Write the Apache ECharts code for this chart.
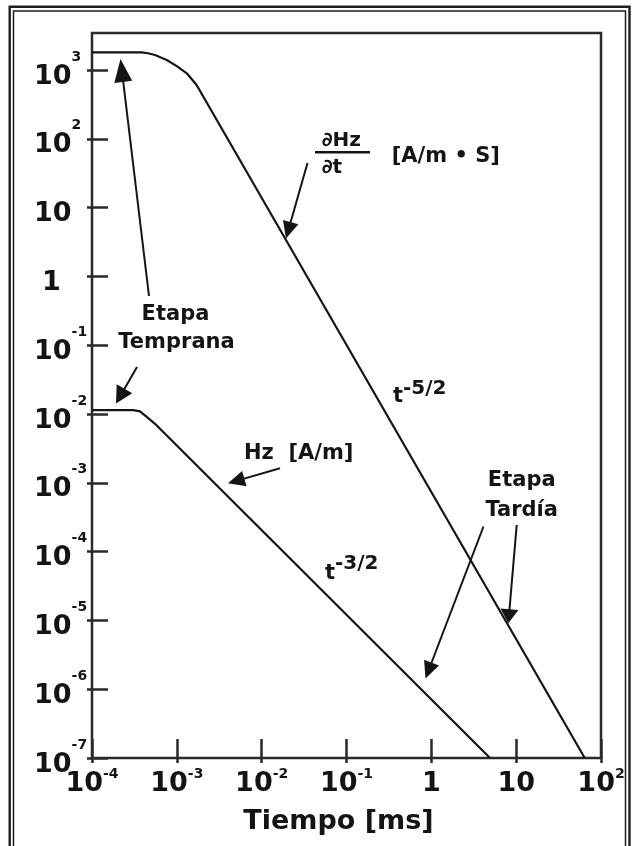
<!DOCTYPE html>
<html><head><meta charset="utf-8">
<script src="https://cdn.jsdelivr.net/npm/echarts@6/dist/echarts.min.js"></script>
<style>html,body{margin:0;padding:0;background:#fff}#c{width:632px;height:846px}</style>
</head><body><div id="c"></div>
<script>
// ---- data ----
const xTickValues = [1e-4, 1e-3, 1e-2, 1e-1, 1, 10, 100];
const yTickValues = [1e-7, 1e-6, 1e-5, 1e-4, 1e-3, 1e-2, 1e-1, 1, 10, 100, 1000];
const xRange = [1e-4, 100];
const yRange = [1e-7, 3450];
// dHz/dt  [A/m·s]
const dHzTime  = [1e-4, 3.85e-4, 4.57e-4, 5.53e-4, 7.6e-4, 1.0e-3, 1.31e-3, 1.71e-3, 64.3];
const dHzValue = [1800, 1800,    1750,    1650,    1400,   1140,   895,     605,     1e-7];
// Hz  [A/m]
const hzTime  = [1e-4,   3.07e-4, 3.68e-4, 4.42e-4, 5.53e-4, 4.92];
const hzValue = [0.0114, 0.0114,  0.0109,  0.0091,  0.0072,  1e-7];

const FONT = '"DejaVu Sans", "Noto Sans", sans-serif';
const INK = '#141414';
const FRAME = '#2a2a2a';

function expOf(v) {
  const e = Math.log10(v), r = Math.round(e);
  return Math.abs(e - r) < 1e-6 ? r : null;
}
function xLabel(v) {
  const e = expOf(v);
  if (e === null) return '';
  if (e === 0) return '{b|1}{s|\u200b}';
  if (e === 1) return '{b|10}{s|\u200b}';
  return '{b|10}{s|' + e + '}';
}
function yLabel(v) {
  const e = expOf(v);
  if (e === null) return '';
  if (e === 0) return '{b1|1}{s|\u200b}';
  if (e === 1) return '{b|10}{s|\u200b}';
  return '{b|10}{s|' + e + '}';
}
const bigStyle = {fontSize: 27, fontWeight: 'bold', fontFamily: FONT, color: INK, verticalAlign: 'bottom'};

const chart = echarts.init(document.getElementById('c'), null, {renderer: 'canvas'});

function arrow(x1, y1, x2, y2, len, hw) {
  const dx = x2 - x1, dy = y2 - y1, L = Math.hypot(dx, dy), ux = dx / L, uy = dy / L;
  const bx = x2 - ux * len, by = y2 - uy * len, px = -uy, py = ux;
  return [
    {type: 'line', shape: {x1: x1, y1: y1, x2: bx + ux * 2, y2: by + uy * 2}, style: {stroke: INK, lineWidth: 2}, z: 50},
    {type: 'polygon', shape: {points: [[x2, y2], [bx + px * hw, by + py * hw], [bx - px * hw, by - py * hw]]}, style: {fill: INK}, z: 50}
  ];
}
function txt(text, x, y, size, align) {
  return {type: 'text', z: 50, style: {text: text, x: x, y: y, fill: INK,
    font: 'bold ' + size + 'px ' + FONT, align: align || 'left', verticalAlign: 'middle'}};
}

const graphics = [
  // double outer frame
  {type: 'rect', shape: {x: 9.7, y: 6.7, width: 619.8, height: 900}, style: {fill: 'none', stroke: '#1e1e1e', lineWidth: 2.4}, z: 1},
  {type: 'rect', shape: {x: 13.5, y: 11, width: 612, height: 900}, style: {fill: 'none', stroke: '#1e1e1e', lineWidth: 1.5}, z: 1},
  // dHz/dt label
  txt('\u2202Hz', 321.7, 140.8, 20),
  {type: 'line', shape: {x1: 315, y1: 152.3, x2: 370, y2: 152.3}, style: {stroke: INK, lineWidth: 2.5}, z: 50},
  txt('\u2202t', 321.7, 168, 20),
  txt('[A/m \u2022 S]', 391.7, 156.1, 21),
  // Etapa Temprana
  txt('Etapa', 175.5, 315, 21, 'center'),
  txt('Temprana', 176.5, 342.5, 21, 'center'),
  // Hz label
  txt('Hz  [A/m]', 244, 454, 21),
  // slopes
  txt('t', 393, 396.8, 21),
  txt('-5/2', 403, 388.8, 20),
  txt('t', 325, 573.8, 21),
  txt('-3/2', 335, 563.8, 20),
  // Etapa Tardia
  txt('Etapa', 521.7, 480.8, 21, 'center'),
  txt('Tard\u00eda', 521.7, 510.5, 21, 'center')
].concat(
  arrow(149, 296, 120.5, 59, 23, 9),
  arrow(137, 367, 116, 403.5, 17, 9),
  arrow(307.5, 163, 286, 238.5, 17, 8),
  arrow(280, 468.3, 228, 483.3, 17, 8),
  arrow(483.5, 526.5, 425.5, 678.5, 17, 8),
  arrow(516.7, 525, 508.3, 623.3, 14, 9)
);

const option = {
  animation: false,
  backgroundColor: '#fff',
  grid: {left: 92, top: 33, width: 509, height: 725, show: true, borderColor: FRAME, borderWidth: 2.5, backgroundColor: 'transparent'},
  xAxis: [{
    type: 'log', logBase: 10, min: xRange[0], max: xRange[1], position: 'bottom',
    axisLine: {show: false},
    axisTick: {show: true, inside: true, length: 19, customValues: xTickValues, lineStyle: {color: FRAME, width: 2.5}},
    splitLine: {show: false}, minorTick: {show: false},
    axisLabel: {show: true, margin: 9, customValues: xTickValues, formatter: xLabel,
      rich: {b: bigStyle, s: {fontSize: 14, fontWeight: 'bold', fontFamily: FONT, color: INK, verticalAlign: 'top', padding: [0, 0, 16, 0]}}},
    name: 'Tiempo [ms]', nameLocation: 'middle', nameGap: 50,
    nameTextStyle: {fontSize: 27, fontWeight: 'bold', fontFamily: FONT, color: INK, padding: [0, 16, 0, 0]}
  }, {
    type: 'log', logBase: 10, min: xRange[0], max: xRange[1], position: 'top', offset: -725,
    axisLine: {show: false}, axisLabel: {show: false}, splitLine: {show: false},
    axisTick: {show: true, inside: true, length: 5, customValues: xTickValues, lineStyle: {color: FRAME, width: 2.5}}
  }],
  yAxis: [{
    type: 'log', logBase: 10, min: yRange[0], max: yRange[1], position: 'left',
    axisLine: {show: false},
    axisTick: {show: true, inside: true, length: 16, customValues: yTickValues, lineStyle: {color: FRAME, width: 2.5}},
    splitLine: {show: false}, minorTick: {show: false},
    axisLabel: {show: true, margin: 58, align: 'left', customValues: yTickValues, formatter: yLabel,
      rich: {b: bigStyle, b1: Object.assign({}, bigStyle, {padding: [0, 0, 0, 8]}),
        s: {fontSize: 14, fontWeight: 'bold', fontFamily: FONT, color: INK, verticalAlign: 'top', padding: [0, 0, 26, 0]}}}
  }, {
    type: 'log', logBase: 10, min: yRange[0], max: yRange[1], position: 'right', offset: -509,
    axisLine: {show: false}, axisLabel: {show: false}, splitLine: {show: false},
    axisTick: {show: true, inside: true, length: 5, customValues: yTickValues, lineStyle: {color: FRAME, width: 2.5}}
  }],
  series: [{
    name: 'dHz/dt', type: 'line', xAxisIndex: 0, yAxisIndex: 0, symbol: 'none',
    lineStyle: {color: INK, width: 2.2}, z: 10,
    data: dHzTime.map((t, i) => [t, dHzValue[i]])
  }, {
    name: 'Hz', type: 'line', xAxisIndex: 0, yAxisIndex: 0, symbol: 'none',
    lineStyle: {color: INK, width: 2.2}, z: 10,
    data: hzTime.map((t, i) => [t, hzValue[i]])
  }],
  graphic: graphics
};
chart.setOption(option);
</script>
</body></html>
